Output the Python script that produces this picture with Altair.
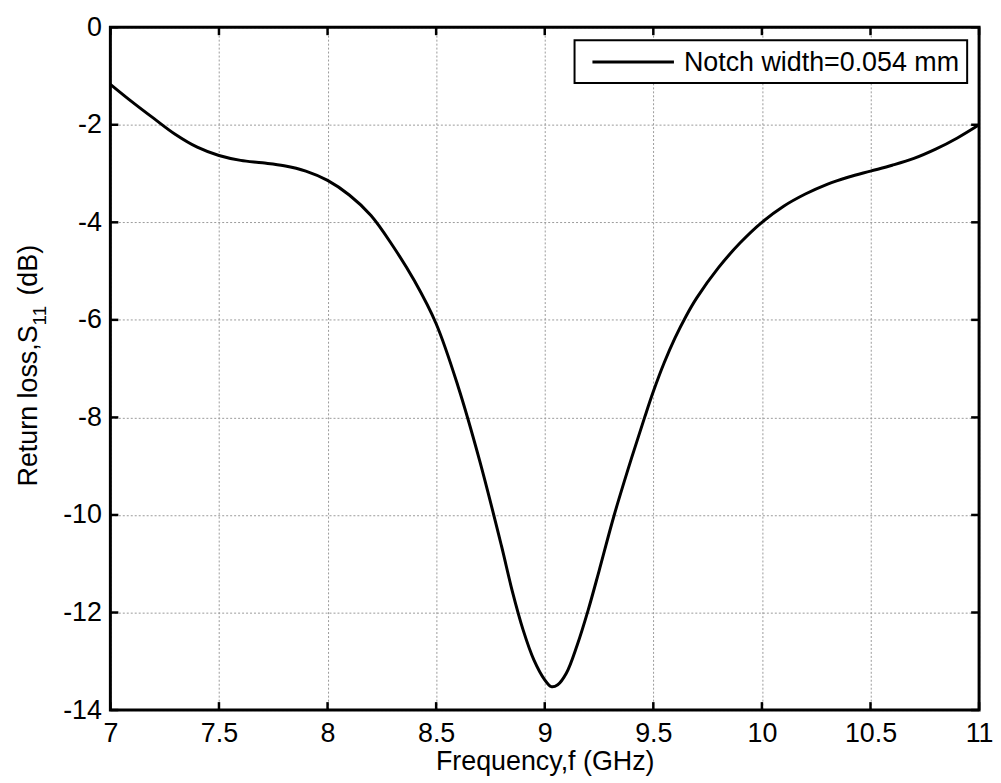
import altair as alt
import pandas as pd

# ---- data ----
freq = [7.0, 7.1, 7.2, 7.3, 7.4, 7.5, 7.6, 7.7, 7.8, 7.9, 8.0, 8.1, 8.2, 8.3, 8.4,
        8.5, 8.6, 8.7, 8.8, 8.85, 8.9, 8.95, 9.0, 9.03, 9.06, 9.1, 9.15, 9.2, 9.25,
        9.32, 9.4, 9.46, 9.5, 9.55, 9.6, 9.65, 9.7, 9.8, 9.9, 10.0, 10.1, 10.2, 10.3,
        10.4, 10.5, 10.6, 10.7, 10.8, 10.9, 11.0]
s11 = [-1.17, -1.53, -1.87, -2.2, -2.46, -2.63, -2.73, -2.78, -2.84, -2.95, -3.14,
       -3.44, -3.86, -4.48, -5.2, -6.08, -7.35, -8.88, -10.62, -11.55, -12.35, -12.97,
       -13.38, -13.52, -13.48, -13.24, -12.66, -11.95, -11.15, -10.0, -8.83, -8.0,
       -7.47, -6.88, -6.37, -5.93, -5.55, -4.93, -4.42, -4.0, -3.67, -3.42, -3.22,
       -3.07, -2.95, -2.83, -2.69, -2.5, -2.27, -2.0]
x_ticks = [7, 7.5, 8, 8.5, 9, 9.5, 10, 10.5, 11]
y_ticks = [0, -2, -4, -6, -8, -10, -12, -14]
legend_label = ["Notch width=0.054 mm"]
x_title = "Frequency,f (GHz)"
y_title_main = ["Return loss,S"]
y_title_sub = ["11"]
y_title_unit = ["(dB)"]

W, H = 874, 687
FONT = "Liberation Sans"
FS = 27

df = pd.DataFrame({"f": freq, "s": s11})
xs = alt.Scale(domain=[7, 11], nice=False, zero=False)
ys = alt.Scale(domain=[-14, 0], nice=False, zero=False)

x_axis = alt.Axis(
    values=x_ticks, title=x_title, grid=True, gridDash=[2, 2], gridColor="#9a9a9a",
    gridWidth=1, domain=False, ticks=False, tickSize=0, labelFont=FONT,
    labelFontSize=FS, labelColor="black", labelPadding=11, labelFlush=False,
    labelOverlap=False, titleFont=FONT, titleFontSize=FS, titleFontWeight="normal",
    titleColor="black", titlePadding=2, labelExpr="'' + datum.value")
y_axis = alt.Axis(
    values=y_ticks, title=None, grid=True, gridDash=[2, 2], gridColor="#9a9a9a",
    gridWidth=1, domain=False, ticks=False, tickSize=0, labelFont=FONT,
    labelFontSize=FS, labelColor="black", labelPadding=9, labelFlush=False,
    labelOverlap=False, labelExpr="'' + datum.value")

line = alt.Chart(df).mark_line(color="black", strokeWidth=3, interpolate="catmull-rom").encode(
    x=alt.X("f:Q", scale=xs, axis=x_axis),
    y=alt.Y("s:Q", scale=ys, axis=y_axis),
)

xt = pd.DataFrame({"t": x_ticks})
yt = pd.DataFrame({"t": y_ticks})
TL = 8
tick_style = dict(color="black", strokeWidth=2.5)
bottom_ticks = alt.Chart(xt).mark_rule(**tick_style).encode(
    x=alt.X("t:Q", scale=xs, axis=x_axis), y=alt.value(H), y2=alt.value(H - TL))
top_ticks = alt.Chart(xt).mark_rule(**tick_style).encode(
    x=alt.X("t:Q", scale=xs, axis=x_axis), y=alt.value(0), y2=alt.value(TL))
left_ticks = alt.Chart(yt).mark_rule(**tick_style).encode(
    y=alt.Y("t:Q", scale=ys, axis=y_axis), x=alt.value(0), x2=alt.value(TL))
right_ticks = alt.Chart(yt).mark_rule(**tick_style).encode(
    y=alt.Y("t:Q", scale=ys, axis=y_axis), x=alt.value(W), x2=alt.value(W - TL))

one = pd.DataFrame({"k": [0]})
frame = alt.Chart(one).mark_rect(filled=False, stroke="black", strokeWidth=3).encode(
    x=alt.value(0), x2=alt.value(W), y=alt.value(0), y2=alt.value(H))

# legend
leg_df = pd.DataFrame({"label": legend_label})
leg_box = alt.Chart(leg_df).mark_rect(fill="white", stroke="black", strokeWidth=2).encode(
    x=alt.value(467), x2=alt.value(862), y=alt.value(13), y2=alt.value(56))
leg_line = alt.Chart(leg_df).mark_rule(color="black", strokeWidth=3).encode(
    x=alt.value(485), x2=alt.value(567), y=alt.value(35))
leg_text = alt.Chart(leg_df).mark_text(align="left", baseline="middle", font=FONT,
                                       fontSize=FS, color="black").encode(
    text="label:N", x=alt.value(577), y=alt.value(36))

# y title with subscript
yt_main = alt.Chart(pd.DataFrame({"t": y_title_main})).mark_text(
    angle=270, align="left", baseline="alphabetic", font=FONT, fontSize=FS, color="black"
).encode(text="t:N", x=alt.value(-74), y=alt.value(462))
yt_sub = alt.Chart(pd.DataFrame({"t": y_title_sub})).mark_text(
    angle=270, align="left", baseline="alphabetic", font=FONT, fontSize=19, color="black"
).encode(text="t:N", x=alt.value(-65), y=alt.value(300))
yt_unit = alt.Chart(pd.DataFrame({"t": y_title_unit})).mark_text(
    angle=270, align="left", baseline="alphabetic", font=FONT, fontSize=FS, color="black"
).encode(text="t:N", x=alt.value(-74), y=alt.value(270))

chart = alt.layer(
    line, bottom_ticks, top_ticks, left_ticks, right_ticks, frame,
    leg_box, leg_line, leg_text, yt_main, yt_sub, yt_unit
).properties(
    width=W, height=H,
    autosize=alt.AutoSizeParams(type="none"),
    padding={"left": 103, "top": 17, "right": 14, "bottom": 64},
    background="white",
).configure_view(stroke=None)

chart.save("out.html", embed_options={"renderer": "svg", "actions": False})
